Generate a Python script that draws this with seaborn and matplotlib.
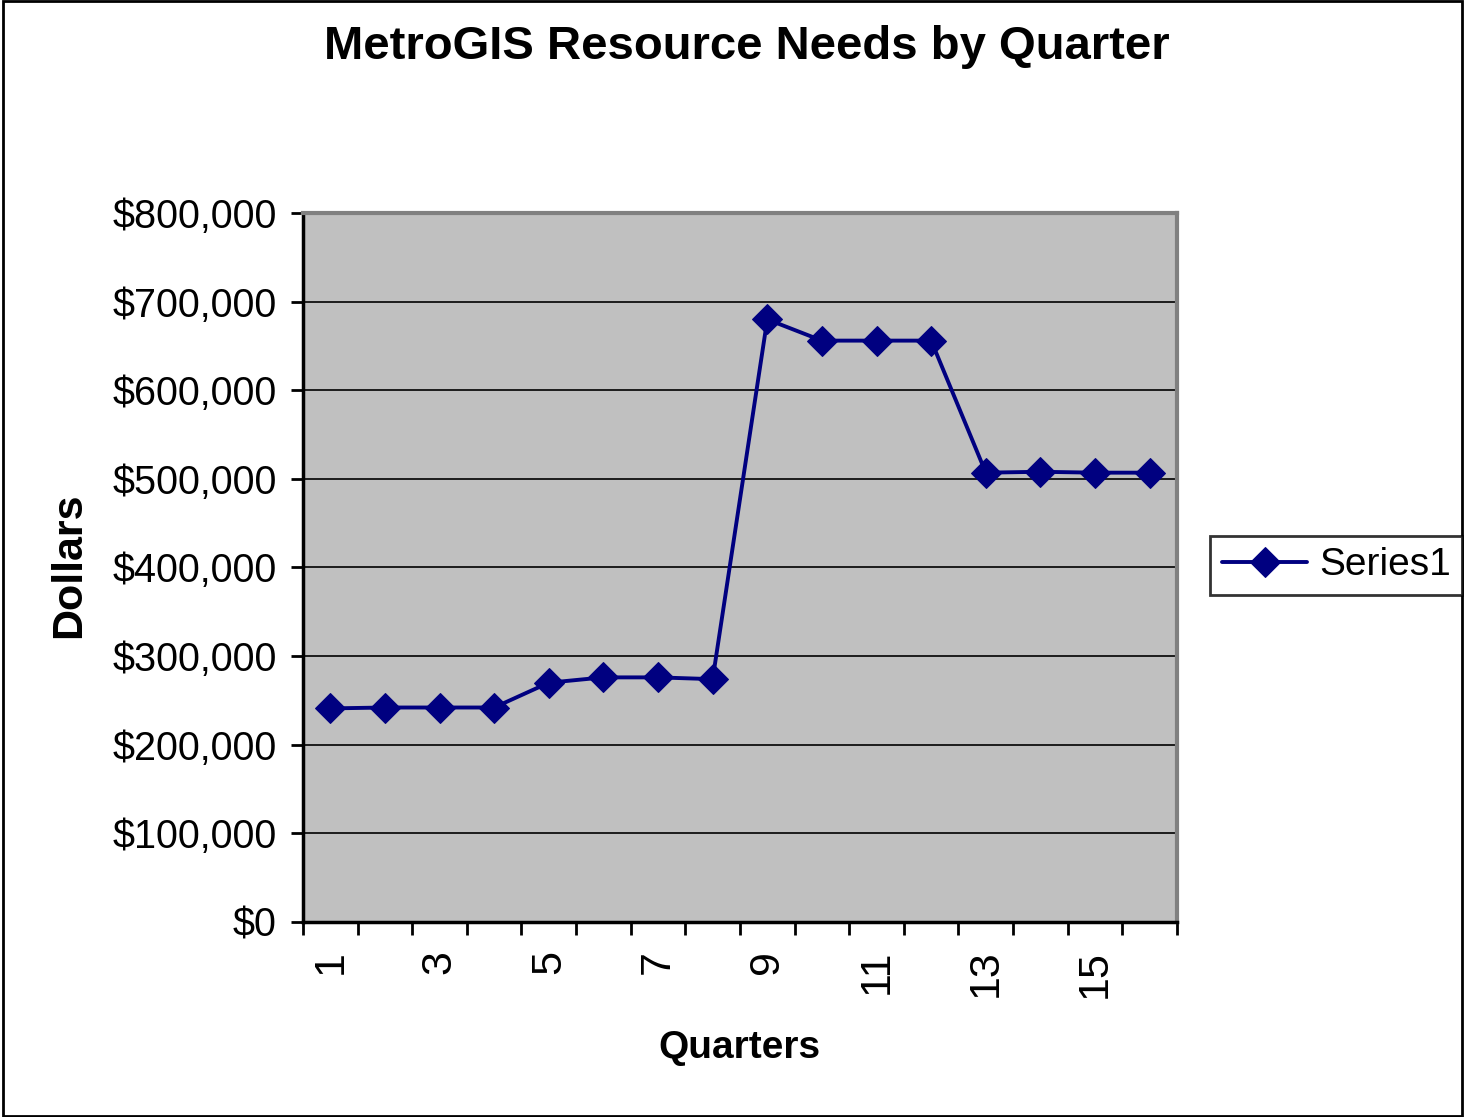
import pandas as pd
import seaborn as sns
import matplotlib.pyplot as plt
from matplotlib.patches import Rectangle
from matplotlib.ticker import FuncFormatter, FixedLocator

quarters = list(range(1, 17))
dollars = [241000, 242000, 242000, 242000, 270000, 276000, 276000, 274000,
           680000, 656000, 656000, 656000, 507000, 508000, 507000, 507000]
tick_labels = ["1", "3", "5", "7", "9", "11", "13", "15"]

data = pd.DataFrame({"Quarter": quarters, "Dollars": dollars})

sns.set_style("white")
plt.rcParams["font.family"] = ["Liberation Sans", "DejaVu Sans"]
plt.rcParams["text.color"] = "black"
plt.rcParams["xtick.color"] = "black"
plt.rcParams["ytick.color"] = "black"

fig = plt.figure(figsize=(14.65, 11.17), dpi=100)
ax = fig.add_axes([0.2068, 0.1746, 0.5966, 0.6347])
ax.set_facecolor("#C0C0C0")

sns.lineplot(data=data, x="Quarter", y="Dollars", ax=ax, color="#000080",
             marker="D", markersize=15, markeredgecolor="#000080",
             linewidth=2.8, label="Series1", legend=False)

ax.set_xlim(0.5, 16.5)
ax.set_ylim(0, 800000)
ax.set_yticks(range(0, 800001, 100000))
ax.yaxis.set_major_formatter(FuncFormatter(lambda v, p: "${:,.0f}".format(v)))
ax.grid(axis="y", color="black", linewidth=1.2)
ax.set_axisbelow(True)

# category boundaries carry the tick marks, odd quarters carry the labels
ax.xaxis.set_major_locator(FixedLocator([q + 0.5 for q in range(0, 17)]))
ax.set_xticklabels([])
ax.xaxis.set_minor_locator(FixedLocator([int(t) for t in tick_labels]))
ax.set_xticklabels(tick_labels, minor=True, rotation=90, fontsize=31, va="top")
ax.tick_params(axis="x", which="major", direction="out", length=9, width=2, color="black", bottom=True)
ax.tick_params(axis="x", which="minor", length=0, pad=20)
ax.tick_params(axis="y", direction="out", length=9, width=2, color="black", labelsize=28.5, pad=10, left=True)

for side in ["left", "bottom"]:
    ax.spines[side].set_color("black")
    ax.spines[side].set_linewidth(2.5)
for side in ["top", "right"]:
    ax.spines[side].set_color("#808080")
    ax.spines[side].set_linewidth(3)

ax.set_xlabel("")
ax.set_ylabel("")

fig.text(0.51, 0.958, "MetroGIS Resource Needs by Quarter", ha="center", va="center",
         fontsize=34, fontweight="bold")
fig.text(0.047, 0.494, "Dollars", ha="center", va="center", rotation=90,
         fontsize=31, fontweight="bold")
fig.text(0.505, 0.062, "Quarters", ha="center", va="center",
         fontsize=28, fontweight="bold")

handles, labels = ax.get_legend_handles_labels()
leg = fig.legend(handles, labels, loc="center left", bbox_to_anchor=(0.826, 0.494),
                 fontsize=28, frameon=True, fancybox=False, edgecolor="black",
                 handlelength=2.2, handletextpad=0.3, borderpad=0.3, borderaxespad=0)
leg.get_frame().set_linewidth(2)

fig.patches.append(Rectangle((0.002, 0.001), 0.996, 0.998, transform=fig.transFigure,
                             fill=False, edgecolor="black", linewidth=2))

fig.savefig("out.png", dpi=100)
